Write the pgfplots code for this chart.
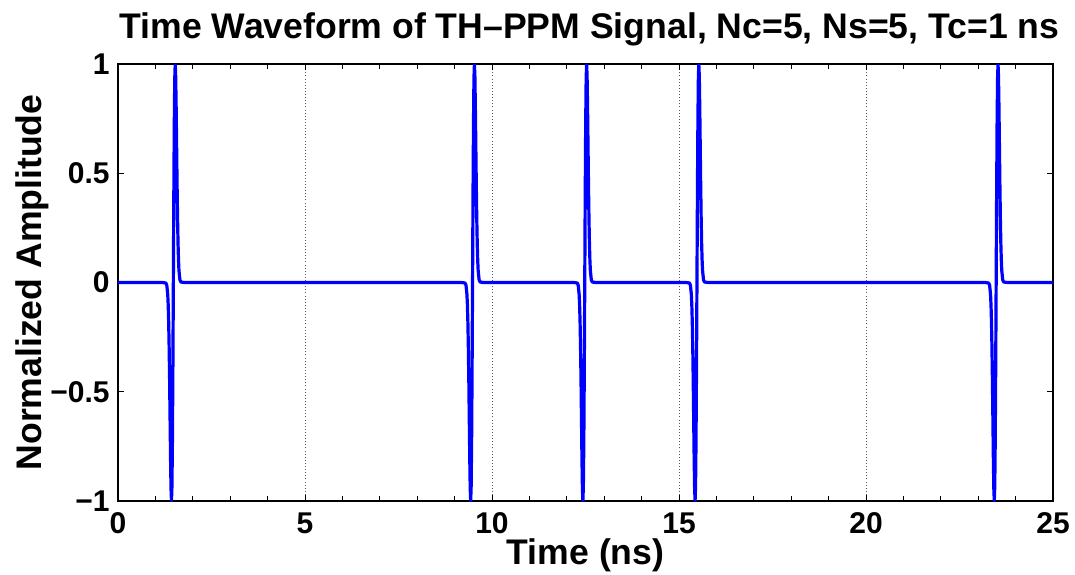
\documentclass[border=0pt]{standalone}
\usepackage{fontspec}
\setmainfont{Liberation Sans}
\usepackage{pgfplots}
\usepackage{pgfplotstable}
\pgfplotsset{compat=1.18}

\pgfplotstableread{
t y
0 0
1.18 0
1.28 -0.0022
1.305 -0.0126
1.33 -0.055
1.3425 -0.1033
1.355 -0.181
1.3675 -0.295
1.38 -0.446
1.3925 -0.624
1.405 -0.803
1.4175 -0.9435
1.43 -1
1.4425 -0.9334
1.455 -0.7275
1.4675 -0.3996
1.48 0
1.4925 0.3996
1.505 0.7275
1.5175 0.9334
1.53 1
1.5425 0.9435
1.555 0.803
1.5675 0.624
1.58 0.446
1.5925 0.295
1.605 0.181
1.6175 0.1033
1.63 0.055
1.655 0.0126
1.68 0.0022
1.78 0
9.18 0
9.28 -0.0022
9.305 -0.0126
9.33 -0.055
9.3425 -0.1033
9.355 -0.181
9.3675 -0.295
9.38 -0.446
9.3925 -0.624
9.405 -0.803
9.4175 -0.9435
9.43 -1
9.4425 -0.9334
9.455 -0.7275
9.4675 -0.3996
9.48 0
9.4925 0.3996
9.505 0.7275
9.5175 0.9334
9.53 1
9.5425 0.9435
9.555 0.803
9.5675 0.624
9.58 0.446
9.5925 0.295
9.605 0.181
9.6175 0.1033
9.63 0.055
9.655 0.0126
9.68 0.0022
9.78 0
12.18 0
12.28 -0.0022
12.305 -0.0126
12.33 -0.055
12.3425 -0.1033
12.355 -0.181
12.3675 -0.295
12.38 -0.446
12.3925 -0.624
12.405 -0.803
12.4175 -0.9435
12.43 -1
12.4425 -0.9334
12.455 -0.7275
12.4675 -0.3996
12.48 0
12.4925 0.3996
12.505 0.7275
12.5175 0.9334
12.53 1
12.5425 0.9435
12.555 0.803
12.5675 0.624
12.58 0.446
12.5925 0.295
12.605 0.181
12.6175 0.1033
12.63 0.055
12.655 0.0126
12.68 0.0022
12.78 0
15.18 0
15.28 -0.0022
15.305 -0.0126
15.33 -0.055
15.3425 -0.1033
15.355 -0.181
15.3675 -0.295
15.38 -0.446
15.3925 -0.624
15.405 -0.803
15.4175 -0.9435
15.43 -1
15.4425 -0.9334
15.455 -0.7275
15.4675 -0.3996
15.48 0
15.4925 0.3996
15.505 0.7275
15.5175 0.9334
15.53 1
15.5425 0.9435
15.555 0.803
15.5675 0.624
15.58 0.446
15.5925 0.295
15.605 0.181
15.6175 0.1033
15.63 0.055
15.655 0.0126
15.68 0.0022
15.78 0
23.18 0
23.28 -0.0022
23.305 -0.0126
23.33 -0.055
23.3425 -0.1033
23.355 -0.181
23.3675 -0.295
23.38 -0.446
23.3925 -0.624
23.405 -0.803
23.4175 -0.9435
23.43 -1
23.4425 -0.9334
23.455 -0.7275
23.4675 -0.3996
23.48 0
23.4925 0.3996
23.505 0.7275
23.5175 0.9334
23.53 1
23.5425 0.9435
23.555 0.803
23.5675 0.624
23.58 0.446
23.5925 0.295
23.605 0.181
23.6175 0.1033
23.63 0.055
23.655 0.0126
23.68 0.0022
23.78 0
25 0
}\pulsedata

\newcommand{\tickfont}{\bfseries\fontsize{15}{17}\selectfont}
\newcommand{\lblfont}{\bfseries\fontsize{17.8}{20}\selectfont}

\begin{document}
\begin{tikzpicture}
\useasboundingbox (-59pt,-36.5pt) rectangle (478.5pt,250.5pt);
\begin{axis}[
  at={(0,0)}, anchor=south west,
  scale only axis,
  width=467.5pt, height=218.5pt,
  xmin=0, xmax=25, ymin=-1, ymax=1,
  xtick={0,5,10,15,20,25},
  xticklabels={0,5,10,15,20,25},
  minor x tick num=4,
  ytick={-1,-0.5,0,0.5,1},
  yticklabels={−1,−0.5,0,0.5,1},
  tick align=inside,
  tick pos=both,
  major tick length=3.2pt,
  minor tick length=2.6pt,
  every tick/.style={black, line width=0.5pt},
  axis line style={black, line width=0.6pt},
  xmajorgrids=true,
  major grid style={black!65, line width=0.45pt, dash pattern=on 0.45pt off 1.1pt},
  tick label style={font=\tickfont, inner sep=0pt},
  xticklabel style={anchor=base, yshift=-16.3pt},
  yticklabel style={anchor=east, xshift=-4pt},
  every axis title shift=0pt,
  title={Time Waveform of TH–PPM Signal, Nc=5, Ns=5, Tc=1 ns},
  title style={font=\lblfont, inner sep=0pt, at={([xshift=2pt,yshift=12.6pt]axis description cs:0.5,1)}, anchor=base},
  xlabel={Time (ns)},
  xlabel style={font=\lblfont, inner sep=0pt, at={([yshift=-31.7pt]axis description cs:0.5,0)}, anchor=base},
  ylabel={Normalized Amplitude},
  ylabel style={font=\lblfont, inner sep=0pt, at={([xshift=-38.2pt]axis description cs:0,0.5)}, anchor=base, rotate=0},
]
\addplot[color={rgb,255:red,0;green,0;blue,255}, line width=1.6pt, line join=round, line cap=round] table[x=t, y=y] {\pulsedata};
\end{axis}
\end{tikzpicture}
\end{document}
